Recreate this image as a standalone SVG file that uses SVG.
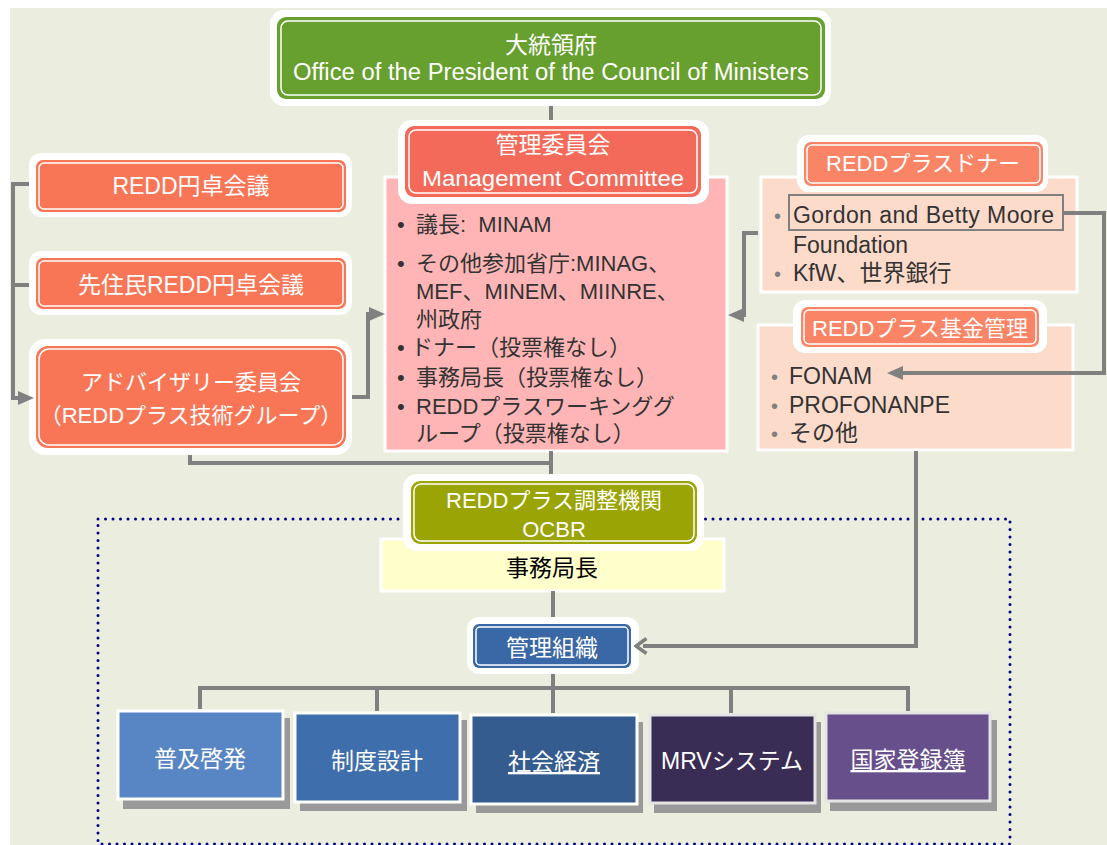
<svg xmlns="http://www.w3.org/2000/svg" width="1107" height="845" viewBox="0 0 1107 845">
<defs>
<style>
.t{font-family:"Liberation Sans","Noto Sans CJK JP",sans-serif;}
.w{fill:#fff;}
.d{fill:#333;}
.halo{fill:#fff;}
.in{fill:none;stroke:#fff;stroke-width:1.5;}
.ln{fill:none;stroke:#808080;stroke-width:4;}
.bx{stroke:#fff;stroke-width:3;}
.sh{fill:#999;}
</style>
<marker id="ah" viewBox="0 0 16 14" refX="8" refY="7" markerWidth="16" markerHeight="14" markerUnits="userSpaceOnUse" orient="auto"><path d="M0,0 L16,7 L0,14 z" fill="#808080"/></marker>
<marker id="ch" viewBox="0 0 14 18" refX="5" refY="9" markerWidth="14" markerHeight="18" markerUnits="userSpaceOnUse" orient="auto"><path d="M1.5,1.5 L12,9 L1.5,16.5" fill="none" stroke="#808080" stroke-width="3.5" stroke-linejoin="miter"/></marker>
</defs>
<rect x="10" y="8" width="1097" height="837" fill="#EBEEDF"/>
<rect x="98" y="519" width="912" height="325" fill="none" stroke="#00008B" stroke-width="3" stroke-dasharray="0 7.5" stroke-linecap="round"/>

<g id="president">
<rect class="halo" x="270" y="10" width="561" height="96" rx="14"/>
<rect x="277" y="17" width="548" height="82" rx="9" fill="#67A02E"/>
<rect class="in" x="281" y="21" width="540" height="74" rx="7"/>
<text class="t w" x="551" y="53" font-size="23" text-anchor="middle">大統領府</text>
<text class="t w" x="551" y="80" font-size="23" text-anchor="middle" textLength="516" lengthAdjust="spacingAndGlyphs">Office of the President of the Council of Ministers</text>
</g>

<g id="management">
<rect class="bx" x="385" y="177" width="342" height="274" fill="#FFB5B5"/>
<rect class="halo" x="398" y="120" width="311" height="84" rx="14"/>
<rect x="405" y="126" width="296" height="71" rx="9" fill="#F36A5A"/>
<rect class="in" x="409" y="130" width="288" height="63" rx="7"/>
<text class="t w" x="553" y="153" font-size="23" text-anchor="middle">管理委員会</text>
<text class="t w" x="553" y="186" font-size="22" text-anchor="middle" textLength="262" lengthAdjust="spacingAndGlyphs">Management Committee</text>
<g class="t d" font-size="22">
<text x="397" y="232">•</text><text x="416" y="232">議長:&#160; MINAM</text>
<text x="397" y="271">•</text><text x="416" y="271">その他参加省庁:MINAG、</text>
<text x="416" y="299">MEF、MINEM、MIINRE、</text>
<text x="416" y="327">州政府</text>
<text x="397" y="355">•</text><text x="411" y="355">ドナー（投票権なし）</text>
<text x="397" y="385">•</text><text x="416" y="385">事務局長（投票権なし）</text>
<text x="397" y="414">•</text><text x="416" y="414">REDDプラスワーキンググ</text>
<text x="416" y="441">ループ（投票権なし）</text>
</g>
</g>

<g id="redd-roundtable">
<rect class="halo" x="29" y="153" width="323" height="64" rx="12"/>
<rect x="36" y="160" width="310" height="52" rx="7" fill="#F87656"/>
<rect class="in" x="39" y="163" width="304" height="46" rx="5"/>
<text class="t w" x="191" y="194" font-size="23" text-anchor="middle">REDD円卓会議</text>
</g>

<g id="indigenous-roundtable">
<rect class="halo" x="29" y="251" width="323" height="64" rx="12"/>
<rect x="36" y="258" width="310" height="51" rx="7" fill="#F87656"/>
<rect class="in" x="39" y="261" width="304" height="45" rx="5"/>
<text class="t w" x="191" y="293" font-size="23" text-anchor="middle">先住民REDD円卓会議</text>
</g>

<g id="advisory">
<rect class="halo" x="29" y="339" width="323" height="116" rx="16"/>
<rect x="36" y="346" width="310" height="102" rx="12" fill="#F87656"/>
<rect class="in" x="39" y="349" width="304" height="96" rx="10"/>
<text class="t w" x="191" y="390" font-size="22" text-anchor="middle">アドバイザリー委員会</text>
<text class="t w" x="191" y="423" font-size="22" text-anchor="middle">（REDDプラス技術グループ）</text>
</g>

<g id="donors">
<rect class="bx" x="761" y="177" width="316" height="115" fill="#FDDBCB"/>
<rect class="halo" x="797" y="135" width="251" height="57" rx="12"/>
<rect x="804" y="142" width="239" height="44" rx="7" fill="#F98466"/>
<rect class="in" x="807" y="145" width="233" height="38" rx="5"/>
<text class="t w" x="923" y="171" font-size="22" text-anchor="middle">REDDプラスドナー</text>
<rect x="789" y="195" width="274" height="35" fill="none" stroke="#808080" stroke-width="2"/>
<g class="t" font-size="23" fill="#333">
<text x="774" y="223" fill="#808080" font-size="20">•</text><text x="793" y="223" textLength="261" lengthAdjust="spacing">Gordon and Betty Moore</text>
<text x="793" y="253">Foundation</text>
<text x="774" y="281" fill="#808080" font-size="20">•</text><text x="793" y="281">KfW、世界銀行</text>
</g>
</g>

<g id="fund">
<rect class="bx" x="758" y="325" width="315" height="125" fill="#FDDBCB"/>
<rect class="halo" x="793" y="300" width="254" height="53" rx="12"/>
<rect x="801" y="307" width="238" height="40" rx="7" fill="#F98466"/>
<rect class="in" x="804" y="310" width="232" height="34" rx="5"/>
<text class="t w" x="920" y="336" font-size="22" text-anchor="middle">REDDプラス基金管理</text>
<g class="t" font-size="23" fill="#333">
<text x="771" y="384" fill="#808080" font-size="20">•</text><text x="789" y="384">FONAM</text>
<text x="771" y="413" fill="#808080" font-size="20">•</text><text x="789" y="413">PROFONANPE</text>
<text x="771" y="441" fill="#808080" font-size="20">•</text><text x="789" y="441">その他</text>
</g>
</g>

<g id="secretary">
<rect class="bx" x="381" y="539" width="343" height="52" fill="#FFFFCC"/>
<text class="t" x="552" y="576" font-size="23" fill="#000" text-anchor="middle">事務局長</text>
</g>

<g id="ocbr">
<rect class="halo" x="403" y="474" width="301" height="77" rx="14"/>
<rect x="411" y="481" width="286" height="63" rx="9" fill="#9AA404"/>
<rect class="in" x="414" y="484" width="280" height="57" rx="7"/>
<text class="t w" x="554" y="508" font-size="22" text-anchor="middle">REDDプラス調整機関</text>
<text class="t w" x="554" y="537" font-size="22" text-anchor="middle">OCBR</text>
</g>

<g id="org">
<rect class="halo" x="467" y="617" width="172" height="57" rx="12"/>
<rect x="473" y="624" width="158" height="44" rx="6" fill="#3A67A5"/>
<rect class="in" x="476" y="627" width="152" height="38" rx="4"/>
<text class="t w" x="552" y="656" font-size="23" text-anchor="middle">管理組織</text>
</g>

<g id="outreach">
<rect class="sh" x="123" y="718" width="167" height="91"/>
<rect class="bx" x="118" y="711" width="165" height="88" fill="#5886C4"/>
<text class="t w" x="200" y="767" font-size="23" text-anchor="middle">普及啓発</text>
</g>
<g id="institution">
<rect class="sh" x="300" y="720" width="167" height="91"/>
<rect class="bx" x="295" y="713" width="165" height="89" fill="#3E6EAB"/>
<text class="t w" x="377" y="769" font-size="23" text-anchor="middle">制度設計</text>
</g>
<g id="socioeconomic">
<rect class="sh" x="476" y="722" width="167" height="91"/>
<rect class="bx" x="471" y="715" width="166" height="89" fill="#355C8F"/>
<text class="t w" x="554" y="770" font-size="23" text-anchor="middle" text-decoration="underline">社会経済</text>
</g>
<g id="mrv">
<rect class="sh" x="654" y="722" width="167" height="91"/>
<rect x="650" y="715" width="165" height="88" fill="#3A2D55" stroke="#E4E4E4" stroke-width="3"/>
<text class="t w" x="732" y="769" font-size="23" text-anchor="middle">MRVシステム</text>
</g>
<g id="registry">
<rect class="sh" x="830" y="720" width="167" height="91"/>
<rect x="826" y="713" width="164" height="88" fill="#674F8C" stroke="#E4E4E4" stroke-width="3"/>
<text class="t w" x="908" y="768" font-size="23" text-anchor="middle" text-decoration="underline">国家登録簿</text>
</g>

<g id="connectors">
<path class="ln" d="M551,106 V120"/>
<path class="ln" d="M29,184 H13 V398 H26" marker-end="url(#ah)"/>
<path class="ln" d="M29,285 H13"/>
<path class="ln" d="M352,397 H368 V314 H377" marker-end="url(#ah)"/>
<path class="ln" d="M190,455 V463 H551"/>
<path class="ln" d="M551,451 V474"/>
<path class="ln" d="M758,233 H744 V315 H736" marker-end="url(#ah)"/>
<path class="ln" d="M1063,213 H1104 V373 H895" marker-end="url(#ah)"/>
<path class="ln" d="M916,451 V646 H643" marker-end="url(#ch)"/>
<path class="ln" d="M553,591 V617"/>
<path class="ln" d="M553,674 V688"/>
<path class="ln" d="M200,709 V688 H908 V711"/>
<path class="ln" d="M377,688 V711"/>
<path class="ln" d="M553,688 V713"/>
<path class="ln" d="M731,688 V713"/>
</g>
</svg>
